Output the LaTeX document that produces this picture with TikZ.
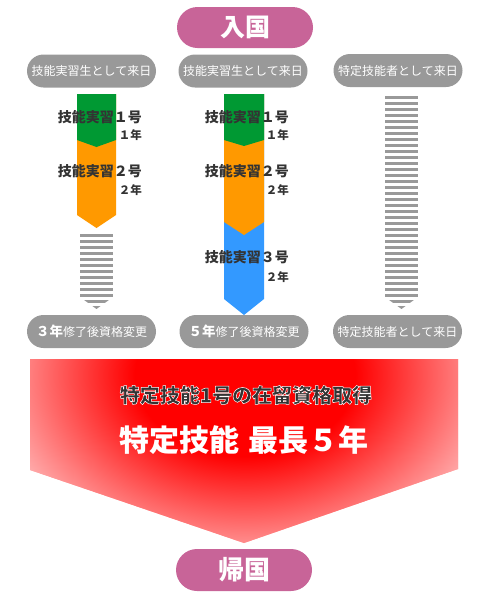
\documentclass[tikz,border=0pt]{standalone}
\usepackage{fontspec}
\setmainfont{Noto Sans CJK JP}
\definecolor{pinkpill}{RGB}{200,100,152}
\definecolor{graypill}{RGB}{153,153,153}
\definecolor{grn}{RGB}{0,153,51}
\definecolor{org}{RGB}{255,153,0}
\definecolor{blu}{RGB}{51,153,255}
\definecolor{txt}{RGB}{51,51,51}
\definecolor{edgepink}{RGB}{255,168,168}
\definecolor{coreRed}{RGB}{255,0,0}
\pgfdeclareradialshading{redglow}{\pgfpoint{0bp}{0bp}}{color(0bp)=(coreRed); color(11bp)=(coreRed); color(25bp)=(edgepink); color(50bp)=(edgepink)}
\newcommand{\haloText}[1]{\special{pdf:literal direct 2 Tr 0.5 w 1 1 1 RG}#1\special{pdf:literal direct 0 Tr}}
\tikzset{
  pill/.style={rounded corners=16.5pt, fill=graypill, text=white, minimum width=129pt, minimum height=33pt, inner sep=0pt, font=\fontsize{12}{14}\selectfont},
  bigpill/.style={rounded corners=20.5pt, fill=pinkpill, text=white, minimum width=136pt, minimum height=41pt, inner sep=0pt, font=\fontsize{25}{28}\selectfont\bfseries},
  lbl/.style={text=txt, inner sep=0pt, anchor=east, font=\fontsize{14}{16}\selectfont\bfseries},
  yr/.style={text=txt, inner sep=0pt, anchor=east, font=\fontsize{11.5}{13}\selectfont\bfseries},
  stripe/.style={fill=graypill},
}
\begin{document}
\begin{tikzpicture}[x=1pt,y=-1pt]
\useasboundingbox (0,0) rectangle (500,600);
% top
\node[bigpill] (nyu) at (245,27.5) {入国};
\node[pill] (s1) at (91.5,71) {技能実習生として来日};
\node[pill] (s2) at (243,71) {技能実習生として来日};
\node[pill] (s3) at (398,70.5) {特定技能者として来日};
% left column bars
\fill[org] (77,94) -- (116,94) -- (116,215) -- (96.5,228) -- (77,215) -- cycle;
\fill[grn] (77,94) -- (116,94) -- (116,140) -- (96.5,147) -- (77,140) -- cycle;
\begin{scope}
  \clip (80,234) -- (113,234) -- (113,297) -- (96.5,309) -- (80,297) -- cycle;
  \foreach \yy in {234,240,...,306} \fill[stripe] (80,\yy) rectangle (113,\yy+3);
\end{scope}
% middle column bars
\fill[blu] (224,94) -- (264,94) -- (264,299) -- (244,315) -- (224,299) -- cycle;
\fill[org] (224,94) -- (264,94) -- (264,222) -- (244,235) -- (224,222) -- cycle;
\fill[grn] (224,94) -- (264,94) -- (264,140) -- (244,146) -- (224,140) -- cycle;
% right column stripes
\begin{scope}
  \clip (385,96) -- (418,96) -- (418,297) -- (401.5,309) -- (385,297) -- cycle;
  \foreach \yy in {96,102,...,306} \fill[stripe] (385,\yy) rectangle (418,\yy+3);
\end{scope}
% labels left
\node[lbl] (l1) at (142,117) {技能実習１号};
\node[yr] (l1y) at (142,135) {１年};
\node[lbl] (l2) at (142,171) {技能実習２号};
\node[yr] (l2y) at (142,190) {２年};
% labels middle
\node[lbl] (m1) at (289,117) {技能実習１号};
\node[yr] (m1y) at (289,135) {１年};
\node[lbl] (m2) at (289,171) {技能実習２号};
\node[yr] (m2y) at (289,190) {２年};
\node[lbl] (m3) at (289,257) {技能実習３号};
\node[yr] (m3y) at (289,277) {２年};
% bottom pills
\node[pill] (b1) at (91.5,331.5) {{\fontsize{13.5}{15}\selectfont\bfseries ３年}修了後資格変更};
\node[pill] (b2) at (244,331.5) {{\fontsize{13.5}{15}\selectfont\bfseries ５年}修了後資格変更};
\node[pill] (b3) at (397.5,331.5) {特定技能者として来日};
% red arrow shape
\fill[edgepink] (30,359) -- (458,359) -- (458,469) -- (244,543) -- (30,470) -- cycle;
\begin{scope}
  \clip (30,359) -- (458,359) -- (458,469) -- (244,543) -- (30,470) -- cycle;
  \shade[shading=redglow] (245,375) ellipse [x radius=250pt, y radius=185pt];
\end{scope}
\node[text=txt, inner sep=0pt, font=\fontsize{20}{22}\selectfont\bfseries] (t1) at (246,395) {\haloText{特定技能1号の在留資格取得}};
\node[text=white, inner sep=0pt, font=\fontsize{30}{34}\selectfont\bfseries] (t2) at (244,440) {特定技能\hspace{0.3em}最長５年};
% bottom
\node[bigpill, minimum height=42pt, rounded corners=21pt, font=\fontsize{26}{30}\selectfont\bfseries] (ki) at (244,570) {帰国};
\end{tikzpicture}
\end{document}
